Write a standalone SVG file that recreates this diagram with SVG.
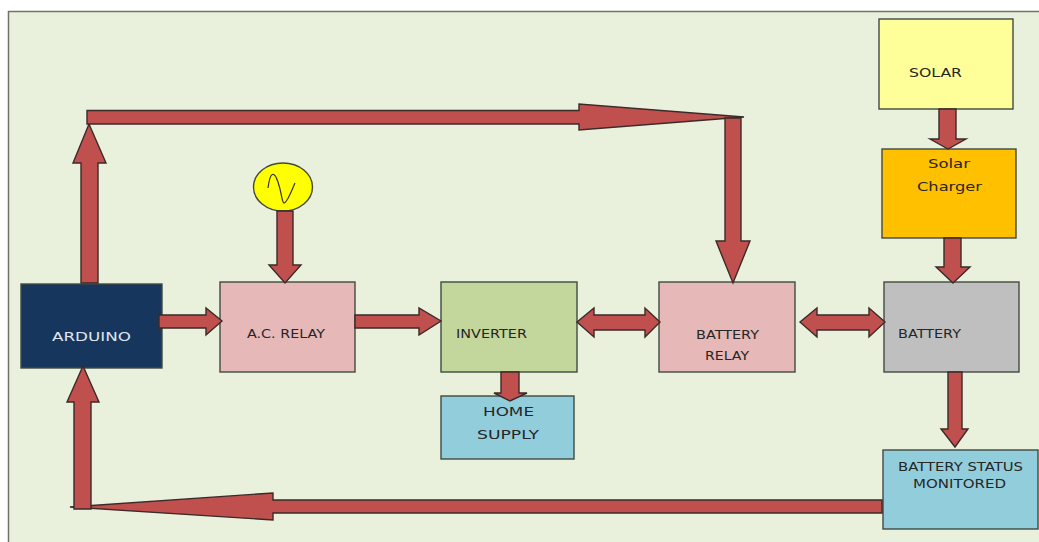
<svg xmlns="http://www.w3.org/2000/svg" width="1039" height="542" viewBox="0 0 1039 542">
<style>
.bg{fill:#e9f0dc;stroke:#6f7468;stroke-width:1.5}
.box{stroke:#3f4a40;stroke-width:1.4}
.a{fill:#c0504d;stroke:#3a2a2a;stroke-width:1.4;stroke-linejoin:miter}
text{font-family:"DejaVu Sans","Liberation Sans",sans-serif;font-size:12.5px;fill:#262626}
</style>
<rect width="1039" height="542" fill="#fff"/>
<path class="bg" d="M8.500 550V11.500H1050V550Z"/>
<g id="arduino"><rect class="box" x="21" y="284" width="141" height="84" fill="#17365d"/><text x="52" y="341" textLength="79" lengthAdjust="spacingAndGlyphs" style="fill:#dfe6ee">ARDUINO</text></g>
<g id="source"><ellipse class="box" cx="283" cy="187" rx="29.500" ry="24" fill="#ffff00"/><path d="M268 188C270 172 274 170 278 182S282 203 284 203C287 203 291 192 295 183" fill="none" stroke="#333" stroke-width="1.200"/></g>
<g id="ac-relay"><rect class="box" x="220" y="282" width="135" height="90" fill="#e6b8b7"/><text x="247" y="338" textLength="78" lengthAdjust="spacingAndGlyphs">A.C. RELAY</text></g>
<g id="inverter"><rect class="box" x="441" y="282" width="136" height="90" fill="#c3d69b"/><text x="456" y="338" textLength="71" lengthAdjust="spacingAndGlyphs">INVERTER</text></g>
<g id="home-supply"><rect class="box" x="441" y="396" width="133" height="63" fill="#92cddc"/><text x="483" y="416" textLength="51" lengthAdjust="spacingAndGlyphs">HOME</text><text x="477" y="439" textLength="62" lengthAdjust="spacingAndGlyphs">SUPPLY</text></g>
<g id="battery-relay"><rect class="box" x="659" y="282" width="136" height="90" fill="#e6b8b7"/><text x="696" y="339" textLength="63" lengthAdjust="spacingAndGlyphs">BATTERY</text><text x="705" y="360" textLength="44" lengthAdjust="spacingAndGlyphs">RELAY</text></g>
<g id="battery"><rect class="box" x="884" y="282" width="135" height="90" fill="#bfbfbf"/><text x="898" y="338" textLength="63" lengthAdjust="spacingAndGlyphs">BATTERY</text></g>
<g id="solar"><rect class="box" x="879" y="19" width="134" height="90" fill="#ffff99"/><text x="909" y="77" textLength="53" lengthAdjust="spacingAndGlyphs">SOLAR</text></g>
<g id="solar-charger"><rect class="box" x="882" y="149" width="134" height="89" fill="#ffc000"/><text x="928" y="168" textLength="42" lengthAdjust="spacingAndGlyphs">Solar</text><text x="917" y="191" textLength="65" lengthAdjust="spacingAndGlyphs">Charger</text></g>
<g id="battery-status"><rect class="box" x="883" y="450" width="155" height="79" fill="#92cddc"/><text x="898" y="471" textLength="125" lengthAdjust="spacingAndGlyphs">BATTERY STATUS</text><text x="913" y="488" textLength="93" lengthAdjust="spacingAndGlyphs">MONITORED</text></g>
<g id="connectors">
<path class="a" d="M81 283V163H73L89 124L106 163H98V283Z"/>
<path class="a" d="M87 110.500H579V104L744 117L579 130V124H87Z"/>
<path class="a" d="M725 118H741V241H750L733 283L716 241H725Z"/>
<path class="a" d="M277 211H293V265H301L285 283L269 265H277Z"/>
<path class="a" d="M159 315H206V308L222 321L206 335V328H159Z"/>
<path class="a" d="M355 315H419V308L441 321L419 335V328H355Z"/>
<path class="a" d="M501 372H519V393H527L510 401L494 393H501Z"/>
<path class="a" d="M577 322L594 308V315H645V308L660 322L645 337V330H594V337Z"/>
<path class="a" d="M800 322L817 308V315H869V308L885 322L869 337V330H817V337Z"/>
<path class="a" d="M939 109H956V139H966L948 149L930 139H939Z"/>
<path class="a" d="M944 238H961V267H970L953 283L936 267H944Z"/>
<path class="a" d="M948 372H962V429H968L955 447L941 429H948Z"/>
<path class="a" d="M882 500H273V493L70 507L273 520V513H882Z"/>
<path class="a" d="M74 509V402H67L83 366L99 402H91V509Z"/>
</g>
</svg>
